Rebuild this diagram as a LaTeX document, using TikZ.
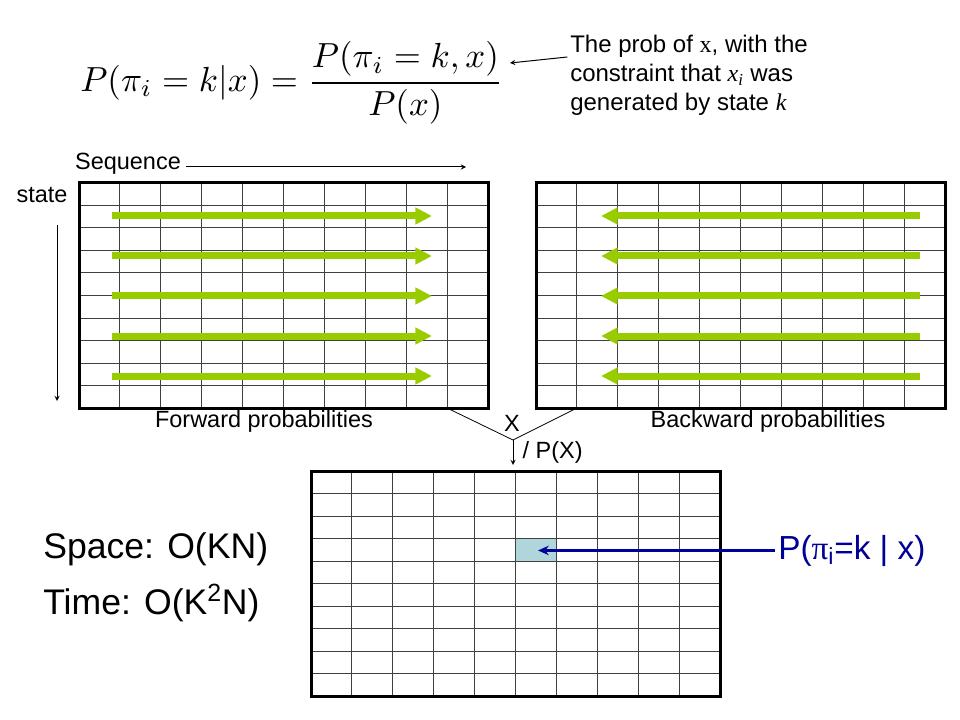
\documentclass[tikz,border=0pt]{standalone}
\usepackage{fontspec}
\usepackage{graphicx}
\setmainfont{Liberation Sans}
\newfontfamily\timesfont{Liberation Serif}
\usetikzlibrary{arrows.meta}
\definecolor{fwdgreen}{RGB}{153,204,0}
\definecolor{postblue}{RGB}{0,0,150}
\definecolor{cellblue}{RGB}{176,214,220}
\begin{document}
\begin{tikzpicture}[line join=miter,x=0.75pt,y=-0.75pt,>=stealth,
 cellline/.style={black!75,line width=0.75pt},
 frame/.style={line width=2.25pt},
 flow/.style={fwdgreen,line width=5.25pt,-{Triangle[length=12.5pt,width=12pt]}},
 lbl/.style={font=\fontsize{17.6}{20}\selectfont,inner sep=1pt}]
 \useasboundingbox (0,0) rectangle (960,720);
 % formula and its note
 \node[anchor=west,inner sep=0pt] (formula) at (80,83) {\resizebox{317pt}{!}{$\displaystyle P(\pi_i=k|x)=\frac{P(\pi_i=k,x)}{P(x)}$}};
 \node[anchor=north west,align=left,inner sep=0pt,font=\fontsize{18}{21.75}\selectfont] (note) at (570,35)
  {The prob of {\timesfont x}, with the\\ constraint that {\timesfont\itshape x\textsubscript{i}} was\\ generated by state {\timesfont\itshape k}};
 \coordinate (numtip) at (510,63);
 \draw[->,line width=0.75pt] ([xshift=-2pt,yshift=-16.5pt]note.north west) -- (numtip);
 % the three tables
 \fill[cellblue] (515.5,538.5) rectangle (556.4,561);
 \foreach \gx/\gy in {79/183,536/183,311/471} {
  \begin{scope}[shift={(\gx,\gy)}]
   \foreach \i in {1,...,9} {
    \draw[cellline] (\i*40.9,0) -- (\i*40.9,225);
    \draw[cellline] (0,\i*22.5) -- (409,\i*22.5);
   }
   \draw[frame] (0,0) rectangle (409,225);
  \end{scope}
 }
 \foreach \r in {0,...,4} {
  \draw[flow] (112,216+\r*40) -- (432,216+\r*40);
  \draw[flow] (920,216+\r*40) -- (601,216+\r*40);
 }
 % axes
 \node[lbl] (seq) at (128,164) {Sequence};
 \coordinate (seqstart) at (186,167);
 \coordinate (seqend) at (466,167);
 \draw[->,line width=0.75pt] (seqstart) -- (seqend);
 \node[lbl] (state) at (42,195) {state};
 \coordinate (statetop) at (57,225);
 \coordinate (statebot) at (57,401);
 \draw[->,line width=0.75pt] (statetop) -- (statebot);
 % labels and product
 \node[lbl] (fwdlabel) at (264,421) {Forward probabilities};
 \node[lbl] (bwdlabel) at (768,421) {Backward probabilities};
 \node[lbl] (times) at (512,423) {X};
 \node[lbl,anchor=west] (divide) at (521,452) {/ P(X)};
 \coordinate (fwdfoot) at (447,408);
 \coordinate (bwdfoot) at (577,408);
 \coordinate (merge) at (513,440);
 \coordinate (posttop) at (513,465);
 \draw[line width=0.6pt] (fwdfoot) -- (merge) -- (bwdfoot);
 \draw[->,line width=0.75pt] (merge) -- (posttop);
 % posterior
 \node[anchor=base west,inner sep=0pt,text=postblue,font=\fontsize{25}{29}\selectfont] (posterior) at (778,559)
  {P({\timesfont π}\textsubscript{i}=k | x)};
 \coordinate (celltip) at (538,553);
 \draw[postblue,line width=2.25pt,-{Stealth[length=8pt,width=7pt]}] ([xshift=-2pt]posterior.west) -- (posterior.west -| celltip);
 \node[anchor=base west,inner sep=0pt,font=\fontsize{26.7}{30}\selectfont] (space) at (43,558) {Space: O(KN)};
 \node[anchor=base west,inner sep=0pt,font=\fontsize{26.7}{30}\selectfont] (time) at (43,614) {Time: O(K\textsuperscript{2}N)};
\end{tikzpicture}
\end{document}
